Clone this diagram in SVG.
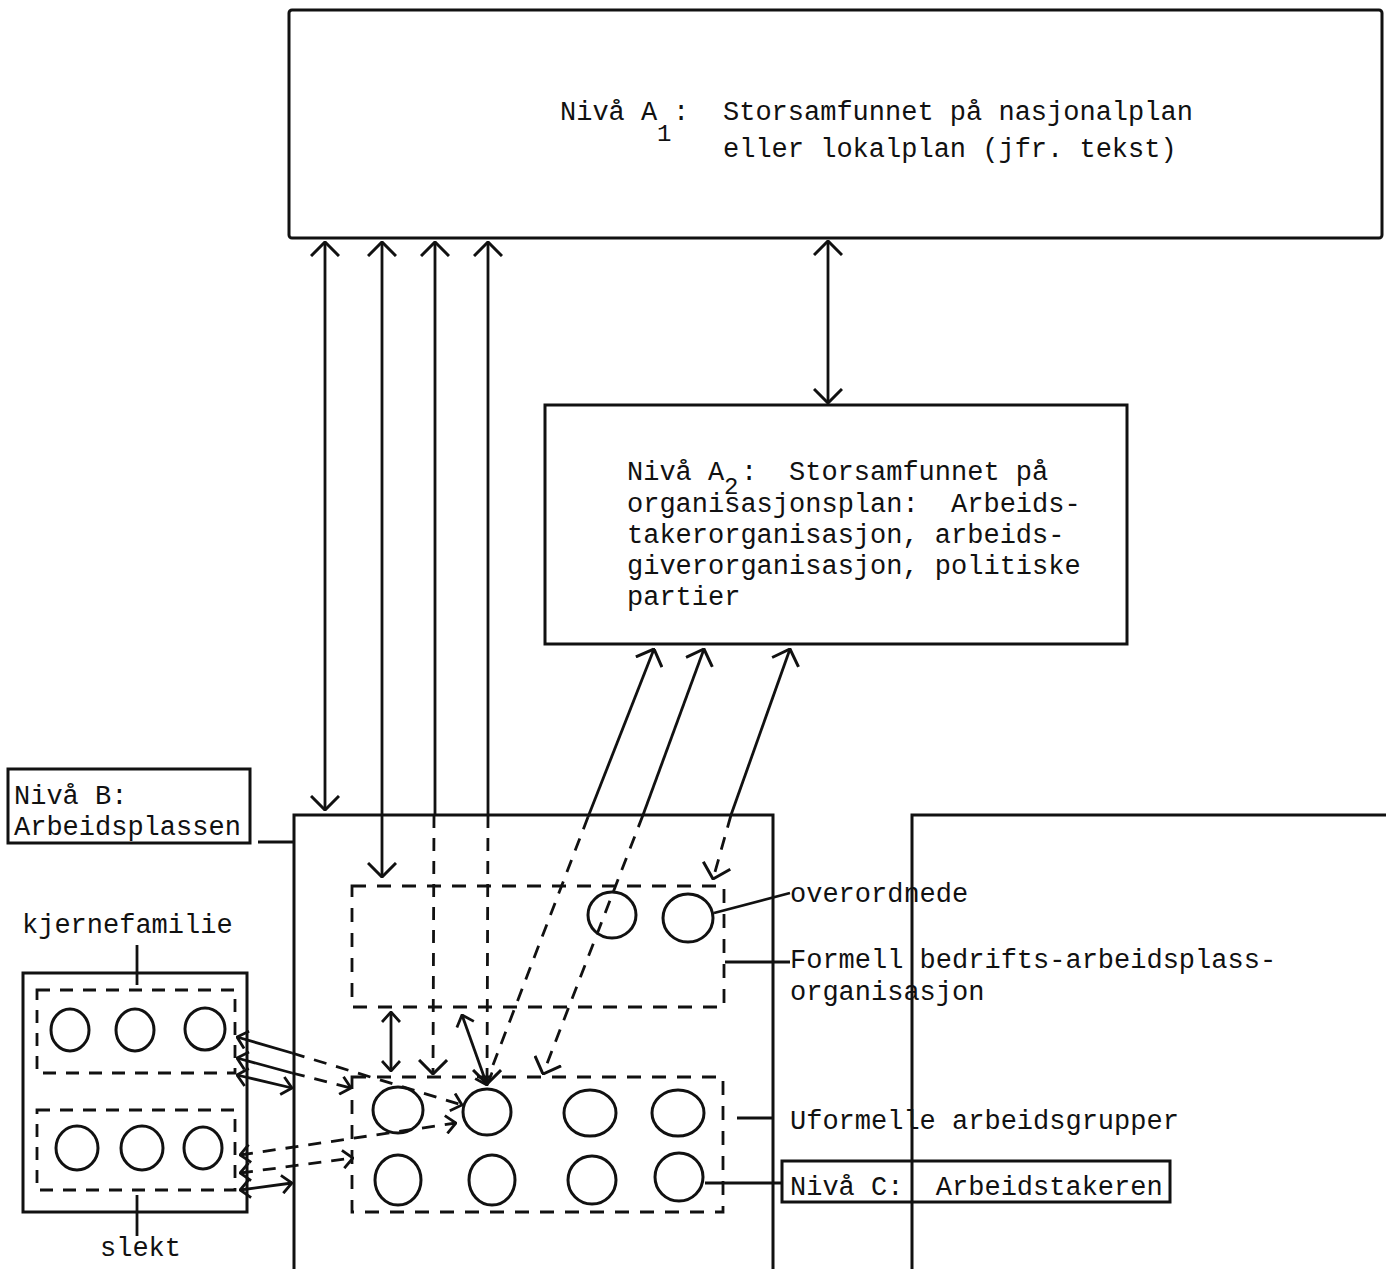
<svg xmlns="http://www.w3.org/2000/svg" width="1386" height="1269" viewBox="0 0 1386 1269" xml:space="preserve">
<style>
  .box{fill:none;stroke:#111;stroke-width:3}
  .ln{fill:none;stroke:#111;stroke-width:2.8}
  .dl{fill:none;stroke:#111;stroke-width:2.8;stroke-dasharray:13 10}
  .db{fill:none;stroke:#111;stroke-width:2.8;stroke-dasharray:14 11}
  .c{fill:none;stroke:#111;stroke-width:3}
  text{font-family:"Liberation Mono","DejaVu Sans Mono",monospace;font-size:27px;fill:#111;white-space:pre}
  .sub{font-size:24px}
</style>
<defs>
  <marker id="ah" viewBox="0 0 16 30" refX="15" refY="15" markerWidth="16" markerHeight="30" markerUnits="userSpaceOnUse" orient="auto-start-reverse">
    <path d="M1,1 L15,15 L1,29" fill="none" stroke="#111" stroke-width="3"/>
  </marker>
  <marker id="as" viewBox="0 0 12 20" refX="11" refY="10" markerWidth="12" markerHeight="20" markerUnits="userSpaceOnUse" orient="auto-start-reverse">
    <path d="M1,1 L11,10 L1,19" fill="none" stroke="#111" stroke-width="2.8"/>
  </marker>
</defs>

<g id="node-A1">
  <rect class="box" x="289" y="10" width="1093" height="228" rx="3"/>
  <text x="560" y="120">Nivå A</text>
  <text class="sub" x="657" y="141">1</text>
  <text x="673" y="120">:</text>
  <text x="723" y="120">Storsamfunnet på nasjonalplan</text>
  <text x="723" y="157">eller lokalplan (jfr. tekst)</text>
</g>

<g id="node-A2">
  <rect class="box" x="545" y="405" width="582" height="239"/>
  <text x="627" y="480">Nivå A</text>
  <text class="sub" x="724" y="494">2</text>
  <text x="741" y="480">:</text>
  <text x="789" y="480">Storsamfunnet på</text>
  <text x="627" y="512">organisasjonsplan:  Arbeids-</text>
  <text x="627" y="543">takerorganisasjon, arbeids-</text>
  <text x="627" y="574">giverorganisasjon, politiske</text>
  <text x="627" y="605">partier</text>
</g>

<g id="node-B-label">
  <rect class="box" x="8" y="769" width="242" height="74" stroke-width="2"/>
  <text x="14" y="804">Nivå B:</text>
  <text x="14" y="835">Arbeidsplassen</text>
</g>

<g id="node-B">
  <path class="box" d="M294,1269 V815 H773 V1269"/>
</g>

<g id="node-right">
  <path class="box" d="M912,1269 V815 H1386"/>
</g>

<g id="node-formal">
  <rect class="db" x="352" y="886" width="372" height="121"/>
  <ellipse class="c" cx="612" cy="915" rx="24" ry="23"/>
  <ellipse class="c" cx="688" cy="918" rx="25" ry="24"/>
</g>

<g id="node-informal">
  <rect class="db" x="352" y="1077" width="371" height="135"/>
  <ellipse class="c" cx="398" cy="1110" rx="25" ry="23"/>
  <ellipse class="c" cx="487" cy="1112" rx="24" ry="23"/>
  <ellipse class="c" cx="590" cy="1113" rx="26" ry="23"/>
  <ellipse class="c" cx="678" cy="1113" rx="26" ry="23"/>
  <ellipse class="c" cx="398" cy="1180" rx="23" ry="25"/>
  <ellipse class="c" cx="492" cy="1180" rx="23" ry="25"/>
  <ellipse class="c" cx="592" cy="1180" rx="24" ry="24"/>
  <ellipse class="c" cx="679" cy="1177" rx="24" ry="24"/>
</g>

<g id="node-family">
  <rect class="box" x="23" y="973" width="224" height="239"/>
  <rect class="dl" x="37" y="990" width="198" height="83"/>
  <rect class="dl" x="37" y="1110" width="198" height="80"/>
  <ellipse class="c" cx="70" cy="1030" rx="19" ry="21"/>
  <ellipse class="c" cx="135" cy="1030" rx="19" ry="21"/>
  <ellipse class="c" cx="205" cy="1029" rx="20" ry="21"/>
  <ellipse class="c" cx="77" cy="1148" rx="21" ry="22"/>
  <ellipse class="c" cx="142" cy="1148" rx="21" ry="22"/>
  <ellipse class="c" cx="203" cy="1148" rx="19" ry="21"/>
</g>

<g id="labels">
  <text x="22" y="933">kjernefamilie</text>
  <text x="100" y="1256">slekt</text>
  <text x="790" y="902">overordnede</text>
  <text x="790" y="968">Formell bedrifts-arbeidsplass-</text>
  <text x="790" y="1000">organisasjon</text>
  <text x="790" y="1129">Uformelle arbeidsgrupper</text>
  <g id="node-C">
    <rect class="box" x="782" y="1161" width="388" height="41" stroke-width="2"/>
    <text x="790" y="1195">Nivå C:  Arbeidstakeren</text>
  </g>
</g>

<g id="connectors">
  <line class="ln" x1="137" y1="945" x2="137" y2="985" stroke-width="1.5"/>
  <line class="ln" x1="137" y1="1195" x2="137" y2="1236" stroke-width="1.5"/>
  <line class="ln" x1="258" y1="842" x2="294" y2="842" stroke-width="2"/>
  <line class="ln" x1="714" y1="913" x2="790" y2="893"/>
  <line class="ln" x1="725" y1="962" x2="790" y2="962"/>
  <line class="ln" x1="737" y1="1118" x2="772" y2="1118"/>
  <line class="ln" x1="705" y1="1183" x2="782" y2="1183"/>

  <line class="ln" x1="325" y1="242" x2="325" y2="810" marker-start="url(#ah)" marker-end="url(#ah)"/>
  <line class="ln" x1="382" y1="242" x2="382" y2="877" marker-start="url(#ah)" marker-end="url(#ah)"/>
  <line class="ln" x1="435" y1="242" x2="435" y2="815" marker-start="url(#ah)"/>
  <line class="dl" x1="434" y1="815" x2="433" y2="1074" marker-end="url(#ah)"/>
  <line class="ln" x1="488" y1="242" x2="488" y2="815" marker-start="url(#ah)"/>
  <line class="dl" x1="488" y1="815" x2="487" y2="1084" marker-end="url(#ah)"/>

  <line class="ln" x1="828" y1="241" x2="828" y2="403" marker-start="url(#ah)" marker-end="url(#ah)"/>

  <line class="ln" x1="654" y1="649" x2="588" y2="817" marker-start="url(#ah)"/>
  <line class="dl" x1="588" y1="817" x2="493" y2="1065"/>
  <line class="ln" x1="704" y1="649" x2="643" y2="815" marker-start="url(#ah)"/>
  <line class="dl" x1="643" y1="815" x2="543" y2="1074" marker-end="url(#ah)"/>
  <line class="ln" x1="790" y1="649" x2="731" y2="815" marker-start="url(#ah)"/>
  <line class="dl" x1="731" y1="815" x2="713" y2="879" marker-end="url(#ah)"/>

  <line class="ln" x1="391" y1="1012" x2="391" y2="1071" marker-start="url(#as)" marker-end="url(#as)"/>
  <line class="ln" x1="462" y1="1015" x2="487" y2="1085" marker-start="url(#as)" marker-end="url(#as)"/>

  <line class="ln" x1="237" y1="1037" x2="292" y2="1053" marker-start="url(#as)"/>
  <line class="dl" x1="292" y1="1053" x2="462" y2="1105" marker-end="url(#as)"/>
  <line class="ln" x1="237" y1="1058" x2="292" y2="1073" marker-start="url(#as)"/>
  <line class="dl" x1="292" y1="1073" x2="351" y2="1088" marker-end="url(#as)"/>
  <line class="ln" x1="237" y1="1075" x2="292" y2="1088" marker-start="url(#as)" marker-end="url(#as)"/>
  <line class="dl" x1="240" y1="1155" x2="456" y2="1123" marker-start="url(#as)" marker-end="url(#as)"/>
  <line class="dl" x1="240" y1="1173" x2="353" y2="1158" marker-start="url(#as)" marker-end="url(#as)"/>
  <line class="ln" x1="240" y1="1190" x2="292" y2="1183" marker-start="url(#as)" marker-end="url(#as)"/>
</g>
</svg>
